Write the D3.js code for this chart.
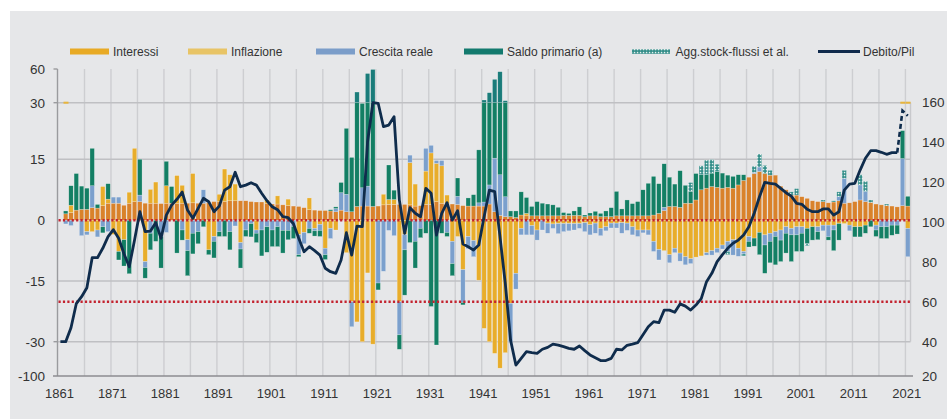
<!DOCTYPE html>
<html><head><meta charset="utf-8">
<script src="https://cdn.jsdelivr.net/npm/d3@7"></script>
<style>
html,body{margin:0;padding:0;background:#fff;}
svg{display:block;font-family:"Liberation Sans",Arial,sans-serif;}
</style></head><body>
<svg id="c" width="947" height="419"></svg>
<script>
// ---------- DATA ----------
const anniBarre = d3.range(1862, 2022);      // 1862..2021
const anniDebito = d3.range(1861, 2022);     // 1861..2021

const interessi = [
 1.6,1.9,2.5,2.7,2.7,3.1,3.0,3.6,4.2,
 4.2,4.2,3.7,4.2,4.6,4.6,4.2,4.2,4.2,4.1,
 4.2,4.2,4.2,4.2,4.2,4.3,4.2,4.2,4.3,4.6,
 4.6,4.6,4.8,4.8,4.8,4.8,4.6,4.5,4.5,4.2,
 4.0,4.0,3.8,3.6,3.5,3.4,3.1,2.6,2.5,2.4,
 2.4,2.3,2.1,2.5,2.1,2.1,3.4,3.5,3.5,3.4,
 3.5,3.8,3.9,3.9,3.9,3.9,3.8,3.5,3.6,3.9,
 3.9,4.6,4.2,4.2,4.0,3.9,3.6,3.5,3.5,3.5,
 3.5,4.0,2.1,1.2,0.9,0.9,0.7,1.3,1.1,1.1,
 1.1,1.1,1.1,1.1,1.1,1.2,1.2,1.2,1.2,0.9,
 1.1,1.1,0.9,0.9,0.9,1.1,1.1,1.1,1.1,1.1,
 1.1,1.1,1.3,1.7,2.4,3.4,3.4,3.2,4.2,4.2,
 5.0,7.5,7.9,8.3,8.1,7.9,8.1,7.9,8.7,9.8,
 10.6,11.5,12.0,11.5,11.1,11.1,8.4,7.5,6.2,6.2,
 5.8,5.4,4.8,4.6,4.6,4.3,4.5,4.8,4.2,4.3,
 4.6,5.0,4.6,4.4,4.0,3.8,3.6,3.5,3.3,3.6,
 3.5];
const inflazione = [
 0,1.8,0,0,-2.8,-2.8,-2.4,4.7,1.0,
 -3.5,-7.7,-4.8,2.7,13.3,0,-10.2,3.4,5.2,0,
 4.3,0,6.8,4.4,-4.8,7.2,0,0,-7.3,-4.0,
 1.8,8.0,6.4,4.1,-5.5,0,0,-2.4,0,0.8,
 0,2.0,0,1.6,0,-3.5,-3.0,2.9,-2.0,-1.0,
 -6.9,-2.0,-2.4,0,-8.0,-20.1,-25.1,-30,-13,-35,
 0,2.6,1.2,1.2,-20.1,-3.5,10.4,5.4,0,8.2,
 12.8,9.4,9.2,2.0,-5.2,-4.0,-12.2,-4.0,-5.0,-14.8,
 -26.7,-30,-53.8,-84,-52.4,-20.5,-13.1,-2.0,0.6,-1.3,
 -2.4,0,-0.7,-0.9,-0.8,-0.8,-0.8,-0.8,-0.8,-0.6,
 -1.1,-0.7,-2.0,-1.6,-0.7,-0.7,-0.6,-0.7,-1.6,-2.4,
 -2.4,-2.4,-5.2,-7.2,-7.5,-8.5,-6.9,-8.1,-9.0,-9.5,
 -9.1,-8.8,-8.0,-7.5,-6.9,-6.1,-5.2,-4.8,-6.9,-7.7,
 -4.0,-4.4,-3.0,-3.6,-3.2,-2.8,-2.4,-1.6,-2.0,-1.6,
 -1.6,-2.0,-1.6,-1.6,-1.2,-1.2,-1.2,-0.8,-0.8,-1.2,
 -1.6,-1.6,-1.2,0,-1.2,0,0,0,0,0,
 -2.0];
const crescita = [
 -0.9,-1.3,0,-3.8,-0.8,5.4,-1.7,-1.6,-2.8,
 1.5,1.5,0,0,0,1.6,-1.5,-3.2,0,-4.0,
 -3.0,0,0,-2.4,-2.7,-3.2,-2.8,3.3,0,-1.2,
 -2.8,0,-2.8,-1.4,-1.6,-2.4,-0.8,-0.8,-2.4,-1.6,
 -2.4,-1.6,-2.5,-2.5,-1.5,-5.0,-2.8,-2.0,-0.6,-1.5,
 -1.6,-2.5,0.8,4.3,4.3,-6.2,0,4.5,4.9,0,
 -15.5,-12.6,-2.5,-3.8,-8.2,-3.8,1.9,-5.2,-2.0,5.8,
 2.0,0.7,1.3,-3.0,-5.5,2.0,-8.1,-3.0,-4.0,0.8,
 1.0,4.7,13.2,10,4.9,-9.5,-3.9,-1.6,-3.6,-2.3,
 -2.5,-2.4,-2.5,-1.1,-2.5,-2.0,-1.8,-1.6,-1.2,-2.2,
 -2.5,-2.5,-1.8,-1.0,-1.2,-1.2,-2.6,-1.8,-2.0,-1.6,
 -0.7,-1.2,-2.5,-2.6,0.8,-2.0,-1.1,-2.0,-2.0,-1.2,
 0,0,-0.6,-1.1,-1.1,-1.0,-2.5,-3.8,-2.0,-0.6,
 -1.2,0.3,1.1,-2.5,-2.0,-1.2,-2.5,-1.6,-1.6,-2.0,
 -1.6,0,0,-1.2,-1.4,-2.9,-1.2,1.0,6.1,-1.4,
 0,3.7,2.5,0,-1.2,-1.6,-1.6,-1.2,-1.2,11.6,
 -7.0];
const saldoPrimario = [
 0.7,4.8,9.0,5.7,5.2,9.4,0.9,-1.5,3.8,
 0,-2.1,-6.5,-13.2,0,8.8,-2.6,-4.1,-5.2,-7.8,
 6.0,4.1,-8.1,-2.5,-6.2,-5.1,-3.0,-1.6,-1.2,-4.1,
 -1.2,-4.0,-4.5,0,-4.7,-1.6,-3.3,-2.3,-6.4,-6.3,
 -4.1,-4.9,-5.6,-2.3,-3.0,-0.5,0,-1.2,-1.3,-1.5,
 -1.2,0.3,0.4,2.5,16.8,13.4,36.1,21.8,47.6,56.2,
 -1.7,0,8.5,2.3,-17.2,-11.2,-5.5,-6.6,-2.3,-3.2,
 -21.3,-36.7,-3.2,-1.0,-3.0,4.5,-0.6,2.0,2.8,13.2,
 27.9,30.2,35.5,46.4,26,1.4,1.6,5.7,3.9,2.3,
 3.5,3.1,2.9,2.7,2.1,0.7,0.5,1.1,2.1,0.4,
 0.7,1.1,0.8,1.4,2.2,6.0,1.7,3.9,3.0,3.5,
 6.4,8.0,9.5,7.3,10.7,7.2,5.5,9.0,4.4,2.9,
 6.5,3.7,3.3,3.3,3.9,3.7,3.0,2.9,2.5,1.4,
 -1.4,-2.0,-5.5,-7.0,-5.3,-7.0,-5.3,-4.9,-6.6,-4.1,
 -4.5,-3.7,-3.3,-2.0,0,-0.8,-5.1,-4.1,0,0,
 -2.5,-2.5,-2.0,-1.6,-1.6,-2.9,-2.9,-2.5,-2.2,7.4,
 2.4];
const aggStockFlussi = [
 0,0,0,0,0,0,0,0,0,
 0,0,0,0,0,0,0,0,0,0,
 0,0,0,0,0,0,0,0,0,0,
 0,0,0,0,0,0,0,0,0,0,
 0,0,0,0,0,0,0,0,0,0,
 0,0,0,0,0,0,0,0,0,0,
 0,0,0,0,0,0,0,0,0,0,
 0,0,0,0,0,0,0,0,0,0,
 0,0,0,0,0,0,0,0,0,0,
 0,0,0,0,0,0,0,0,0,0,
 0,0,0,0,0,0,0,0,0,0,
 0,0,0,0,0,0,0,0,0,2.2,
 0,2.2,3.6,3.3,1.8,0,-0.8,0,0,-0.5,
 0,1.5,3.3,2.0,1.2,0,0,0,0.8,1.6,
 0,-0.6,0,0,0.4,0,0.3,1.2,2.0,0,
 0,2.5,2.5,0.6,0,0,0.4,0,0,0,
 0];
const debitoPil = [
 40,40,47,59,62.5,67,82,82,86.7,92.5,
 96,91.7,84,77.5,90.8,105,95,95.3,99.5,91.7,
 103.3,108.3,111.2,114.8,105.8,101.7,106.7,111.7,110,105,
 107.8,115.8,117.5,124.7,117.5,118.3,119.5,118.3,114.2,110.5,
 107.5,106,102.5,102,99,91.7,85,87.5,85.5,83.3,
 76.7,75,74.2,80.8,94.5,83.3,97.8,97.5,140,159.5,
 159.2,147.5,148.3,152.5,110.8,94.2,107,104.2,102.5,116.7,
 114.2,93.3,104.2,109.5,100.8,105.5,88.8,87.5,85.8,88.3,
 102.5,115.8,115,92.5,69.2,40.8,26.4,30.3,34.2,33.6,
 33.2,35.6,36.7,38.6,38,37.1,36.1,35.6,37.5,34.8,
 32.3,30.7,29,29,30.3,35.6,35.2,37.9,38.6,39.4,
 43.5,47.5,50,49.5,55.8,55.8,54.7,58.9,57.8,55.8,
 58.3,61.5,70,74.2,80,83.5,86.7,89.2,90.8,93.3,
 97.5,104.2,112.5,119.7,119.2,118.8,116.7,114.5,112.8,109.2,
 108.7,106.2,105,105,106.4,106.4,103.3,105,115.8,118.8,
 119.2,125.8,131.7,135.5,135.5,134.7,133.7,134.5,134.5,155.5,
 153];
const annoInizioStima = 2019;                 // dashed segment from here
const tickSinistra = [60, 30, 15, 0, -15, -30, -100];
const tickDestra = [160, 140, 120, 100, 80, 60, 40, 20];
const tickAnni = d3.range(1861, 2022, 10);
const grigliaAnni = d3.range(1866, 2022, 5);
const grigliaValori = [30, 15, -15, -30];
const soglie = {zeroSx: 0, maastrichtDx: 60};
const segniTrenta = [1862, 2020, 2021];
const legenda = ["Interessi", "Inflazione", "Crescita reale", "Saldo primario (a)", "Agg.stock-flussi et al.", "Debito/Pil"];

// ---------- CHART ----------
const svg = d3.select("#c");
const defs = svg.append("defs");
const pat = defs.append("pattern").attr("id","pat").attr("width",3).attr("height",3).attr("patternUnits","userSpaceOnUse");
pat.append("rect").attr("width",3).attr("height",3).attr("fill","#2c8a85");
pat.append("rect").attr("x",0.8).attr("y",0.8).attr("width",1.5).attr("height",1.5).attr("fill","#e6f1ef");

svg.append("rect").attr("x",10).attr("y",11).attr("width",937).attr("height",408).attr("fill","#e6e7e9");

const x = d3.scaleLinear().domain([1861, 2021]).range([60.4, 907.8]);
const yL = d3.scaleLinear().domain([-100,-30,-15,0,15,30,60]).range([376,341.7,281,220.3,159.3,102.7,69]);
const yR = d3.scaleLinear().domain([20,40,160]).range([376,341.7,101.7]);
const step = x(1862) - x(1861);
const xL = 57.5, xRb = 910.5;

// grid
svg.append("g").selectAll("line").data(grigliaAnni).join("line")
  .attr("x1", d => x(d - 0.45)).attr("x2", d => x(d - 0.45))
  .attr("y1", yL(60)).attr("y2", yL(-100))
  .attr("stroke", "#cdced1").attr("stroke-width", 1.4);
svg.append("g").selectAll("line").data(grigliaValori).join("line")
  .attr("x1", xL).attr("x2", xRb).attr("y1", d => yL(d)).attr("y2", d => yL(d))
  .attr("stroke", "#bfc0c3").attr("stroke-width", 1.6);
svg.append("line").attr("x1", xRb).attr("x2", xRb).attr("y1", yL(30)).attr("y2", yL(-30))
  .attr("stroke", "#c8c9cc").attr("stroke-width", 1.4);

// bars
const serie = [
  {vals: interessi, col: "#D9822B"},
  {vals: inflazione, col: "#E8AD2B"},
  {vals: crescita, col: "#7BA0CD"},
  {vals: saldoPrimario, col: "#137F64", alto: "#1A7C7A"},
  {vals: aggStockFlussi, col: "url(#pat)"}
];
const segs = [];
anniBarre.forEach((yr, i) => {
  let pos = 0, neg = 0;
  serie.forEach(s => {
    const v = s.vals[i];
    if (!v) return;
    let a, b;
    if (v > 0) { a = pos; b = pos + v; pos = b; } else { a = neg + v; b = neg; neg = a; }
    if (s.alto && b > 30) {
      if (a < 30) segs.push({yr, lo: a, hi: 30, col: s.col});
      segs.push({yr, lo: Math.max(a, 30), hi: b, col: s.alto});
    } else segs.push({yr, lo: a, hi: b, col: s.col});
  });
});
const bw = 4.4;
svg.append("g").selectAll("rect").data(segs).join("rect")
  .attr("x", d => x(d.yr) - bw / 2).attr("width", bw)
  .attr("y", d => yL(d.hi)).attr("height", d => Math.max(0.5, yL(d.lo) - yL(d.hi)))
  .attr("fill", d => d.col)
  .attr("stroke", "rgba(255,255,255,0.45)").attr("stroke-width", 0.5);

// small marks at the 30 line
svg.append("g").selectAll("rect").data(segniTrenta).join("rect")
  .attr("x", d => x(d) - bw / 2).attr("width", bw + 0.6)
  .attr("y", yL(30) - 1).attr("height", 2).attr("fill", "#E8B53C");

// axes
svg.append("line").attr("x1", xL).attr("x2", xL).attr("y1", yL(60)).attr("y2", yL(-100))
  .attr("stroke", "#9a9b9e").attr("stroke-width", 1.4);
svg.append("g").selectAll("line").data([60, 30, -30]).join("line")
  .attr("x1", xL - 4).attr("x2", xL).attr("y1", d => yL(d)).attr("y2", d => yL(d))
  .attr("stroke", "#9a9b9e").attr("stroke-width", 1.4);
svg.append("line").attr("x1", 53).attr("x2", 913).attr("y1", yL(-100)).attr("y2", yL(-100))
  .attr("stroke", "#8c8d90").attr("stroke-width", 1.6);

svg.append("g").selectAll("text").data(tickSinistra).join("text")
  .attr("x", 45).attr("y", d => yL(d)).attr("dy", "0.36em")
  .attr("text-anchor", "end").attr("font-size", 13.5).attr("fill", "#333")
  .text(d => d);
svg.append("g").selectAll("text").data(tickDestra).join("text")
  .attr("x", 922).attr("y", d => yR(d)).attr("dy", "0.36em")
  .attr("text-anchor", "start").attr("font-size", 13.5).attr("fill", "#333")
  .text(d => d);
svg.append("g").selectAll("text").data(tickAnni).join("text")
  .attr("x", d => x(d) - 1).attr("y", 398)
  .attr("text-anchor", "middle").attr("font-size", 13).attr("fill", "#333")
  .text(d => d);

// reference dotted lines
[yL(soglie.zeroSx), yR(soglie.maastrichtDx)].forEach(yy => {
  svg.append("line").attr("x1", xL + 1).attr("x2", xRb).attr("y1", yy).attr("y2", yy)
    .attr("stroke", "#C3232F").attr("stroke-width", 2.4).attr("stroke-dasharray", "2.2 2.2");
});

// debt line
const pts = anniDebito.map((yr, i) => ({yr, v: debitoPil[i]}));
const line = d3.line().x(d => x(d.yr)).y(d => yR(d.v));
svg.append("path").datum(pts.filter(d => d.yr <= annoInizioStima)).attr("d", line)
  .attr("fill", "none").attr("stroke", "#0F2C4C").attr("stroke-width", 2.8)
  .attr("stroke-linejoin", "round");
svg.append("path").datum(pts.filter(d => d.yr >= annoInizioStima)).attr("d", line)
  .attr("fill", "none").attr("stroke", "#0F2C4C").attr("stroke-width", 2.6)
  .attr("stroke-dasharray", "5 3");

// legend
const lg = svg.append("g").attr("font-size", 12).attr("fill", "#333");
const legItems = [
  {t: legenda[0], x: 70, tx: 113, col: "#E8AA25"},
  {t: legenda[1], x: 188, tx: 231, col: "#E8C466"},
  {t: legenda[2], x: 316, tx: 359, col: "#7B9DC9"},
  {t: legenda[3], x: 464, tx: 507, col: "#137A6E"},
  {t: legenda[4], x: 632, tx: 675.5, col: "url(#pat)", pat: true},
  {t: legenda[5], x: 818, tx: 863, line: true}
];
legItems.forEach(d => {
  if (d.line) {
    lg.append("line").attr("x1", d.x).attr("x2", d.x + 42).attr("y1", 51.5).attr("y2", 51.5)
      .attr("stroke", "#102A4C").attr("stroke-width", 2.8);
  } else if (d.pat) {
    lg.append("rect").attr("x", d.x).attr("y", 49.3).attr("width", 38).attr("height", 4.5).attr("fill", d.col);
  } else {
    lg.append("rect").attr("x", d.x).attr("y", 48.5).attr("width", 39).attr("height", 6).attr("fill", d.col);
  }
  lg.append("text").attr("x", d.tx).attr("y", 51.5).attr("dy", "0.36em").text(d.t);
});
</script>
</body></html>
